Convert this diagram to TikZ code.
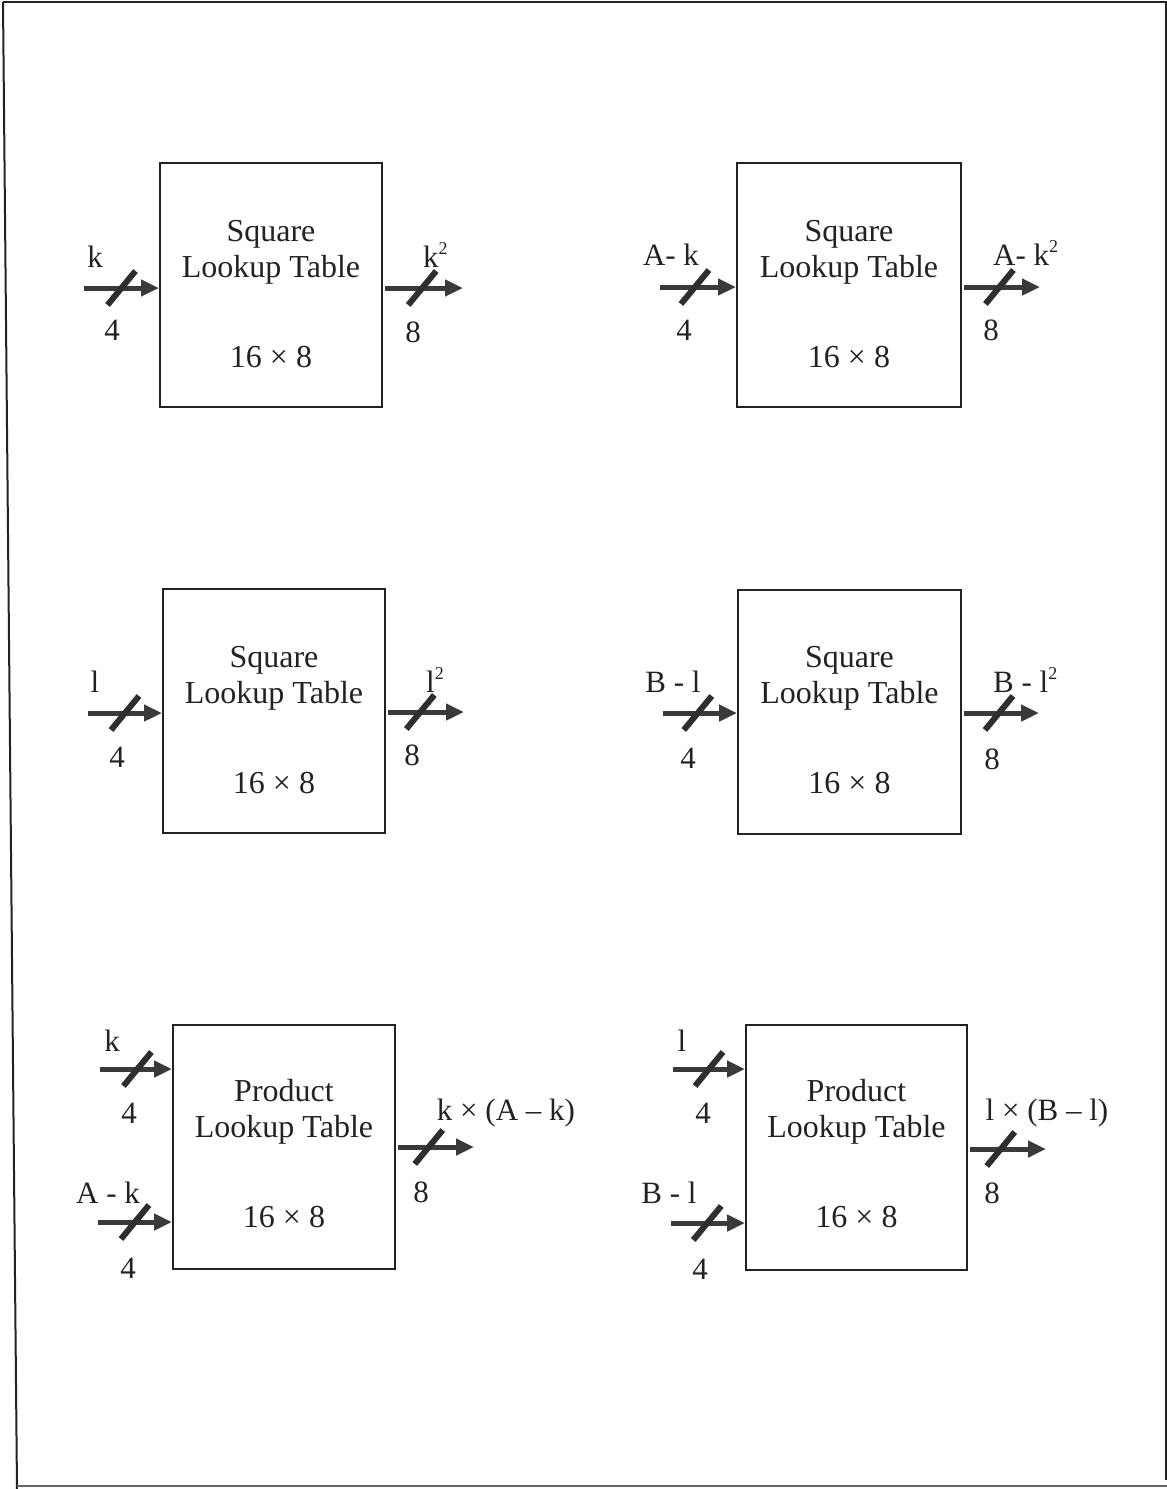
\documentclass[tikz,border=0pt]{standalone}
\usepackage{fontspec}
\setmainfont{Liberation Serif}
\usetikzlibrary{arrows.meta,calc}
\definecolor{ink}{HTML}{222222}
\definecolor{busc}{HTML}{3A3A3A}
\newcommand{\sqr}{\raisebox{13pt}{\fontsize{18}{18}\selectfont 2}}
\tikzset{
  lutbox/.style={draw=ink, line width=2pt, rectangle, minimum width=222pt, minimum height=244pt, inner sep=0pt},
  txt/.style={text=ink, font=\fontsize{32}{36}\selectfont, inner sep=0pt, anchor=base},
  lab/.style={text=ink, font=\fontsize{31}{36}\selectfont, inner sep=0pt, anchor=base},
  bus/.style={draw=busc, line width=5pt, -{Triangle[length=18pt,width=16pt]}},
  slashst/.style={draw=busc!80!black, line width=6pt},
  frame/.style={draw=ink, line width=2pt},
}
\newcommand{\slashat}[1]{\draw[slashst] ($(#1)+(-14,17)$) -- ($(#1)+(14,-17)$);}
\newcommand{\luttext}[4]{%
  \node[txt] at ($(#1.north)+(0,#2)$) {#3};
  \node[txt] at ($(#1.north)+(0,#2+36)$) {Lookup Table};
  \node[txt] at ($(#1.north)+(0,#2+126)$) {#4};
}
\begin{document}
\begin{tikzpicture}[x=1pt,y=-1pt]
\useasboundingbox (0,0) rectangle (1167,1489);
% page frame
\draw[frame] (3,2) -- (1166,2) -- (1166,1480);
\draw[frame] (3,2) -- (17,1489);
\draw[frame, draw=ink!70] (17,1486) -- (1167,1486);

% boxes
\node[lutbox] (sq1) at (271,285) {};
\node[lutbox, minimum width=224pt] (sq2) at (849,285) {};
\node[lutbox] (sq3) at (274,711) {};
\node[lutbox, minimum width=223pt] (sq4) at (849.5,711.5) {};
\node[lutbox] (pr1) at (284,1147) {};
\node[lutbox, minimum width=221pt, minimum height=245pt] (pr2) at (856.5,1147.5) {};

\luttext{sq1}{79}{Square}{16 × 8}
\luttext{sq2}{79}{Square}{16 × 8}
\luttext{sq3}{79}{Square}{16 × 8}
\luttext{sq4}{79}{Square}{16 × 8}
\luttext{pr1}{77}{Product}{16 × 8}
\luttext{pr2}{77}{Product}{16 × 8}

% free ends
\coordinate (i1) at (84,288);   \coordinate (o1) at (463,288);
\coordinate (i2) at (660,287);  \coordinate (o2) at (1040,287);
\coordinate (i3) at (88,713);   \coordinate (o3) at (464,712);
\coordinate (i4) at (663,713);  \coordinate (o4) at (1039,713);
\coordinate (i5a) at (100,1069); \coordinate (i5b) at (98,1222); \coordinate (o5) at (474,1147);
\coordinate (i6a) at (673,1069); \coordinate (i6b) at (671,1223); \coordinate (o6) at (1046,1149);

% row 1
\draw[bus] (i1) -- (i1 -| sq1.west) coordinate[pos=0.5] (s1);
\slashat{s1}
\draw[bus, shorten <=2pt] (o1 -| sq1.east) -- (o1) coordinate[pos=0.49] (t1);
\slashat{t1}
\draw[bus] (i2) -- (i2 -| sq2.west) coordinate[pos=0.46] (s2);
\slashat{s2}
\draw[bus, shorten <=2pt] (o2 -| sq2.east) -- (o2) coordinate[pos=0.48] (t2);
\slashat{t2}
% row 2
\draw[bus] (i3) -- (i3 -| sq3.west) coordinate[pos=0.5] (s3);
\slashat{s3}
\draw[bus, shorten <=2pt] (o3 -| sq3.east) -- (o3) coordinate[pos=0.44] (t3);
\slashat{t3}
\draw[bus] (i4) -- (i4 -| sq4.west) coordinate[pos=0.47] (s4);
\slashat{s4}
\draw[bus, shorten <=2pt] (o4 -| sq4.east) -- (o4) coordinate[pos=0.48] (t4);
\slashat{t4}
% row 3
\draw[bus] (i5a) -- (i5a -| pr1.west) coordinate[pos=0.52] (s5a);
\slashat{s5a}
\draw[bus] (i5b) -- (i5b -| pr1.west) coordinate[pos=0.50] (s5b);
\slashat{s5b}
\draw[bus, shorten <=2pt] (o5 -| pr1.east) -- (o5) coordinate[pos=0.42] (t5);
\slashat{t5}
\draw[bus] (i6a) -- (i6a -| pr2.west) coordinate[pos=0.50] (s6a);
\slashat{s6a}
\draw[bus] (i6b) -- (i6b -| pr2.west) coordinate[pos=0.49] (s6b);
\slashat{s6b}
\draw[bus, shorten <=2pt] (o6 -| pr2.east) -- (o6) coordinate[pos=0.42] (t6);
\slashat{t6}

% labels row 1
\node[lab] (l1a) at (95,267) {k};
\node[lab] (l1b) at (112,340) {4};
\node[lab, anchor=base west] (l1c) at (423,267) {k\sqr};
\node[lab] (l1d) at (413,342) {8};
\node[lab] (l2a) at (671,265) {A- k};
\node[lab] (l2b) at (684,340) {4};
\node[lab, anchor=base west] (l2c) at (993,265) {A- k\sqr};
\node[lab] (l2d) at (991,340) {8};
% labels row 2
\node[lab] (l3a) at (95,692) {l};
\node[lab] (l3b) at (117,767) {4};
\node[lab, anchor=base west] (l3c) at (426,692) {l\sqr};
\node[lab] (l3d) at (412,765) {8};
\node[lab] (l4a) at (673,692) {B - l};
\node[lab] (l4b) at (688,768) {4};
\node[lab, anchor=base west] (l4c) at (993,692) {B - l\sqr};
\node[lab] (l4d) at (992,769) {8};
% labels row 3
\node[lab] (l5a) at (112,1051) {k};
\node[lab] (l5b) at (129,1123) {4};
\node[lab] (l5c) at (108,1203) {A - k};
\node[lab] (l5d) at (128,1278) {4};
\node[lab] (l5e) at (506,1120) {k × (A – k)};
\node[lab] (l5f) at (421,1202) {8};
\node[lab] (l6a) at (682,1051) {l};
\node[lab] (l6b) at (703,1123) {4};
\node[lab] (l6c) at (669,1203) {B - l};
\node[lab] (l6d) at (700,1279) {4};
\node[lab] (l6e) at (1047,1120) {l × (B – l)};
\node[lab] (l6f) at (992,1203) {8};
\end{tikzpicture}
\end{document}
